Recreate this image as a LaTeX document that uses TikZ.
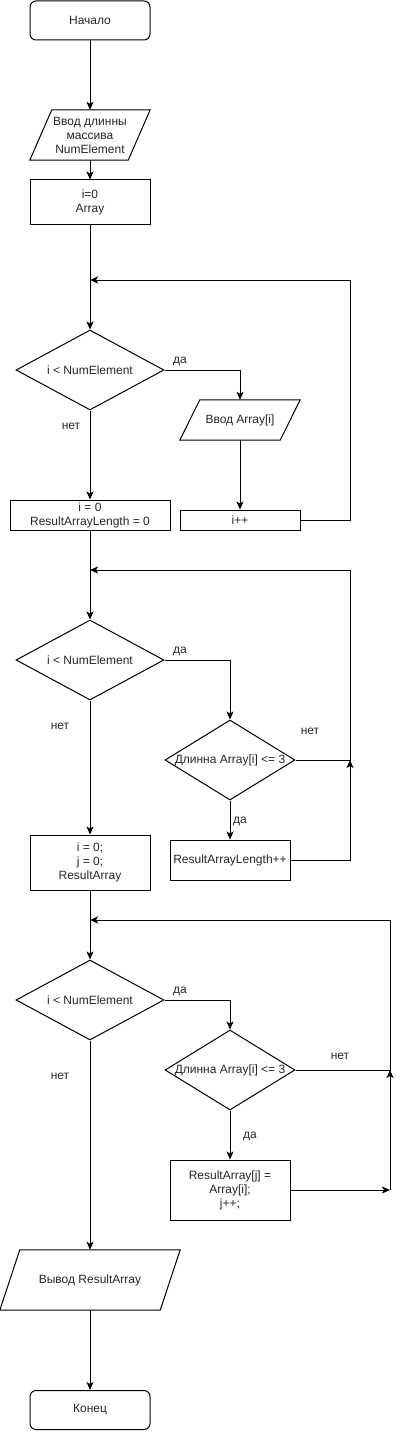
\documentclass[tikz,border=0pt]{standalone}
\usepackage{fontspec}
\setmainfont{Liberation Sans}
\usetikzlibrary{shapes.geometric,arrows.meta}
\begin{document}
\begin{tikzpicture}[x=1pt,y=-1pt,
  every node/.style={font=\fontsize{12}{14}\selectfont, text=black!85},
  ln/.style={line width=1pt, black},
  arr/.style={line width=1pt, black, -{Stealth[length=8pt,width=7pt,inset=2pt]}},
  box/.style={draw, line width=1pt, inner sep=0pt, align=center},
  term/.style={box, rounded corners=6pt, minimum width=120pt, minimum height=39pt},
  io/.style={inner sep=0pt, align=center},
  dia/.style={draw, line width=1pt, diamond, inner sep=0pt},
  lbl/.style={inner sep=0pt}]
\useasboundingbox (0,0) rectangle (400,1431);

% nodes
\node[term] (start) at (90,20.5) {Начало};
\node[io, minimum width=120pt, minimum height=50pt] (in1) at (90,135) {Ввод длинны\\массива\\NumElement};
\draw[ln] ([xshift=22pt]in1.north west) -- (in1.north east) -- ([xshift=-22pt]in1.south east) -- (in1.south west) -- cycle;
\node[box, minimum width=120pt, minimum height=45pt] (init) at (90,202.5) {i=0\\Array};

\node[dia, minimum width=148pt, minimum height=80pt, label={center:i < NumElement}] (d1) at (90,370) {};
\node[io, minimum width=120pt, minimum height=40pt] (in2) at (240,420) {Ввод Array[i]};
\draw[ln] ([xshift=20pt]in2.north west) -- (in2.north east) -- ([xshift=-20pt]in2.south east) -- (in2.south west) -- cycle;
\node[box, minimum width=120pt, minimum height=20pt] (inc) at (240,520) {i++};
\node[box, minimum width=160pt, minimum height=30pt] (set2) at (90,515) {i = 0\\ResultArrayLength = 0};

\node[dia, minimum width=148pt, minimum height=80pt, label={center:i < NumElement}] (d2) at (90,660) {};
\node[dia, minimum width=130pt, minimum height=80pt, label={center:Длинна Array[i] <= 3}] (d3) at (230,760) {};
\node[box, minimum width=120pt, minimum height=40pt] (rl) at (230,860) {ResultArrayLength++};
\node[box, minimum width=120pt, minimum height=55pt] (set3) at (90,862.5) {i = 0;\\j = 0;\\ResultArray};

\node[dia, minimum width=148pt, minimum height=80pt, label={center:i < NumElement}] (d4) at (90,1000) {};
\node[dia, minimum width=130pt, minimum height=80pt, label={center:Длинна Array[i] <= 3}] (d5) at (230,1070) {};
\node[box, minimum width=120pt, minimum height=60pt] (ra) at (230,1190) {ResultArray[j] =\\Array[i];\\j++;};

\node[io, minimum width=180pt, minimum height=60pt] (out) at (90,1280) {Вывод ResultArray};
\draw[ln] ([xshift=20pt]out.north west) -- (out.north east) -- ([xshift=-20pt]out.south east) -- (out.south west) -- cycle;
\node[term] (end) at (90,1410) {Конец};

% labels
\node[lbl] (y1) at (180,361) {да};
\node[lbl] (n1) at (71,426) {нет};
\node[lbl] (y2) at (180,651) {да};
\node[lbl] (n2) at (60,726) {нет};
\node[lbl] (n3) at (310,731) {нет};
\node[lbl] (y3) at (240,821) {да};
\node[lbl] (y4) at (180,991) {да};
\node[lbl] (n4) at (60,1076) {нет};
\node[lbl] (n5) at (340,1056) {нет};
\node[lbl] (y5) at (250,1136) {да};

% coordinates
\coordinate (j1) at (90,280);
\coordinate (r1) at (350,280);
\coordinate (j2) at (90,570);
\coordinate (r2) at (350,570);
\coordinate (m2) at (350,760);
\coordinate (j3) at (90,920);
\coordinate (r3) at (390,920);
\coordinate (m3) at (390,1070);
\coordinate (b3) at (390,1190);

% connectors
\draw[arr] (start) -- (in1);
\draw[arr] (in1) -- (init);
\draw[arr] (init) -- (d1);
\draw[arr] (d1.east) -| (in2.north);
\draw[arr] (in2) -- (inc);
\draw[arr] (inc.east) -| (r1) -- (j1);
\draw[arr] (d1) -- (set2);

\draw[arr] (set2) -- (d2);
\draw[arr] (d2.east) -| (d3.north);
\draw[ln] (d3.east) -- (m2) -- (r2);
\draw[arr] (r2) -- (j2);
\draw[arr] (d3) -- (rl);
\draw[arr] (rl.east) -| (m2);
\draw[arr] (d2) -- (set3);

\draw[arr] (set3) -- (d4);
\draw[arr] (d4.east) -| (d5.north);
\draw[ln] (d5.east) -- (m3) -- (r3);
\draw[arr] (r3) -- (j3);
\draw[arr] (d5) -- (ra);
\draw[arr] (ra.east) -- (b3);
\draw[arr] (b3) -- (m3);
\draw[arr] (d4) -- (out);
\draw[arr] (out) -- (end);
\end{tikzpicture}
\end{document}
